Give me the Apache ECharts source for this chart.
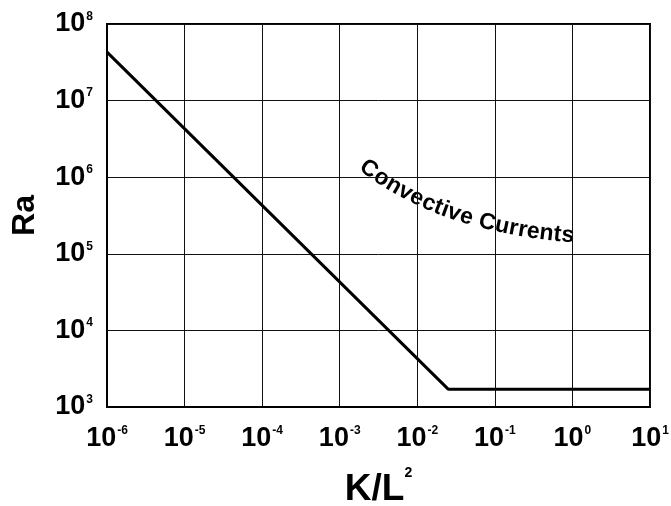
<!DOCTYPE html>
<html>
<head>
<meta charset="utf-8">
<script src="https://cdn.jsdelivr.net/npm/echarts@6/dist/echarts.min.js"></script>
<style>
html, body { margin: 0; padding: 0; background: #fff; }
#chart_1 { width: 671px; height: 506px; }
</style>
</head>
<body>
<div id="chart_1"></div>
<script>
// K/L^2 values and the Rayleigh number on the curve
var kL = [1e-6, 0.025, 10];
var ra = [4.3e7, 1708, 1708];
var noteText = 'Convective Currents';

var FONT = '"Liberation Sans", Arial, sans-serif';

function powLabel(value) {
	var e = Math.round(Math.log(value) / Math.LN10);
	return '{b|10}{s|' + e + '}';
}

var labelRich = {
	b: { fontSize: 27, fontWeight: 'bold', fontFamily: FONT, color: '#000' },
	s: { fontSize: 12, fontWeight: 'bold', fontFamily: FONT, color: '#000', verticalAlign: 'top', padding: [0, 0, 0, 1] }
};

// place the note letter by letter along a bent path
function curvedText(text) {
	var p0 = [362, 164], p1 = [440, 226], p2 = [574, 236];
	var ctx = document.createElement('canvas').getContext('2d');
	var font = 'bold 23px ' + FONT;
	ctx.font = font;
	function pt(t) {
		var a = (1 - t) * (1 - t), b = 2 * (1 - t) * t, c = t * t;
		return [a * p0[0] + b * p1[0] + c * p2[0], a * p0[1] + b * p1[1] + c * p2[1]];
	}
	// arc length table
	var table = [], len = 0, prev = pt(0);
	for (var i = 0; i <= 400; i++) {
		var q = pt(i / 400);
		len += Math.hypot(q[0] - prev[0], q[1] - prev[1]);
		table.push([len, i / 400]);
		prev = q;
	}
	function tAt(s) {
		for (var i = 0; i < table.length; i++) {
			if (table[i][0] >= s) return table[i][1];
		}
		return 1;
	}
	var total = ctx.measureText(text).width;
	var spacing = (len - total) / (text.length - 1);
	var els = [], s = 0;
	for (var k = 0; k < text.length; k++) {
		var ch = text.charAt(k);
		var w = ctx.measureText(ch).width;
		var t = tAt(s + w / 2);
		var p = pt(t);
		var dx = 2 * (1 - t) * (p1[0] - p0[0]) + 2 * t * (p2[0] - p1[0]);
		var dy = 2 * (1 - t) * (p1[1] - p0[1]) + 2 * t * (p2[1] - p1[1]);
		els.push({
			type: 'text',
			x: p[0],
			y: p[1],
			rotation: -Math.atan2(dy, dx),
			style: { text: ch, font: font, fill: '#000', align: 'center', verticalAlign: 'middle' }
		});
		s += w + spacing;
	}
	return els;
}

var pts = [];
for (var i = 0; i < kL.length; i++) pts.push([kL[i], ra[i]]);

var option = {
	backgroundColor: '#fff',
	animation: false,
	grid: {
		left: 107, right: 21, top: 24, bottom: 99,
		outerBoundsMode: 'none', containLabel: false,
		show: true, borderColor: '#000', borderWidth: 2
	},
	xAxis: {
		type: 'log', logBase: 10, min: 1e-6, max: 10, interval: 1,
		name: '{m|K/L}{s|2}',
		nameLocation: 'middle', nameGap: 59,
		nameTextStyle: {
			rich: {
				m: { fontSize: 37, lineHeight: 48, fontWeight: 'bold', fontFamily: FONT, color: '#000' },
				s: { fontSize: 14, fontWeight: 'bold', fontFamily: FONT, color: '#000', verticalAlign: 'top' }
			}
		},
		axisLine: { show: true, lineStyle: { color: '#000', width: 2 } },
		axisTick: { show: false },
		axisLabel: { margin: 18, formatter: powLabel, rich: labelRich },
		splitLine: { show: true, lineStyle: { color: '#111', width: 1 } },
		minorTick: { show: false }
	},
	yAxis: {
		type: 'log', logBase: 10, min: 1e3, max: 1e8, interval: 1,
		name: 'Ra',
		nameLocation: 'middle', nameGap: 66,
		nameTextStyle: { fontSize: 32, fontWeight: 'bold', fontFamily: FONT, color: '#000' },
		axisLine: { show: true, lineStyle: { color: '#000', width: 2 } },
		axisTick: { show: false },
		axisLabel: { margin: 14, formatter: powLabel, rich: labelRich },
		splitLine: { show: true, lineStyle: { color: '#111', width: 1 } }
	},
	series: [{
		type: 'line',
		data: pts,
		symbol: 'none',
		lineStyle: { color: '#000', width: 3 },
		z: 5
	}],
	graphic: curvedText(noteText)
};

var myChart = echarts.init(document.getElementById('chart_1'));
myChart.setOption(option);
</script>
</body>
</html>
